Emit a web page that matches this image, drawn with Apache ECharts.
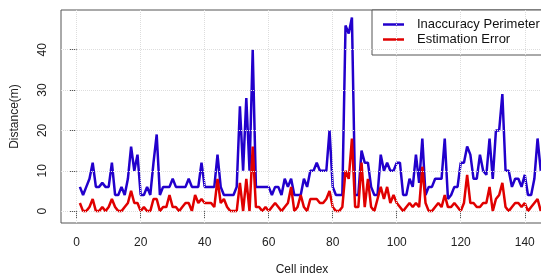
<!DOCTYPE html>
<html>
<head>
<meta charset="utf-8">
<script src="https://cdn.jsdelivr.net/npm/echarts@6/dist/echarts.min.js"></script>
<style>
  html, body { margin: 0; padding: 0; background: #fff; }
  #chart { width: 541px; height: 276px; }
</style>
</head>
<body>
<div id="chart"></div>
<script>
// values, cell index 1..145
var perimeter = [
  6, 4, 6, 8, 12, 6, 6, 7, 6, 6, 12, 4, 4, 6, 4, 8, 16, 10, 14, 4,
  4, 6, 4, 12, 19, 4, 6, 6, 6, 8, 6, 6, 6, 6, 8, 6, 6, 6, 12, 6,
  6, 6, 6, 14, 6, 4, 4, 4, 4, 6, 26, 10, 28, 10, 40, 6, 6, 6, 6, 6,
  4, 6, 6, 4, 8, 6, 8, 4, 4, 4, 8, 6, 10, 10, 12, 10, 10, 10, 20, 6,
  4, 4, 4, 46, 44, 48, 4, 4, 15, 12, 12, 6, 4, 4, 14, 10, 12, 10, 10, 12,
  12, 4, 4, 8, 6, 14, 7, 18, 4, 6, 6, 8, 8, 8, 18, 3, 4, 6, 6, 12,
  12, 16, 14, 8, 8, 14, 10, 9, 18, 8, 20, 20, 29, 10, 10, 6, 8, 8, 6, 9,
  4, 4, 8, 18, 10
];
var estError = [
  2, 0, 0, 1, 3, 0, 0, 1, 0, 1, 3, 1, 0, 0, 1, 2, 5, 2, 2, 0,
  1, 0, 0, 3, 3, 0, 1, 1, 4, 1, 1, 0, 1, 2, 2, 0, 4, 2, 3, 2,
  2, 2, 1, 8, 2, 3, 1, 0, 0, 0, 7, 0, 8, 0, 16, 1, 1, 0, 1, 0,
  1, 2, 1, 0, 1, 2, 6, 0, 1, 4, 1, 0, 3, 3, 3, 2, 2, 3, 5, 1,
  0, 0, 1, 10, 8, 18, 1, 1, 12, 1, 8, 1, 0, 3, 6, 3, 6, 2, 4, 2,
  1, 0, 1, 2, 1, 2, 1, 11, 2, 0, 0, 1, 2, 1, 4, 1, 1, 2, 1, 0,
  2, 9, 2, 2, 1, 1, 2, 2, 6, 0, 3, 4, 7, 1, 0, 1, 2, 2, 1, 2,
  0, 1, 2, 3, 0
];
var xTicks = [0, 20, 40, 60, 80, 100, 120, 140];
var yTicks = [0, 10, 20, 30, 40];

var chart = echarts.init(document.getElementById('chart'));

function toPoints(arr) {
  return arr.map(function (v, i) { return [i + 1, v]; });
}

var gridLines = xTicks.map(function (x) { return { xAxis: x }; })
  .concat(yTicks.map(function (y) { return { yAxis: y }; }));

var axisText = { fontSize: 12, color: '#222', fontFamily: 'Liberation Sans' };
// plain line as legend key (no circle marker)
var lineIcon = 'path://M0 0H21V2.5H0Z';

var option = {
  animation: false,
  backgroundColor: '#fff',
  textStyle: { fontFamily: 'Liberation Sans' },
  grid: {
    left: 61, right: -2, top: 10, bottom: 53,
    outerBoundsMode: 'none',
    show: true, borderColor: '#555', borderWidth: 1,
    backgroundColor: 'transparent'
  },
  legend: {
    data: [
      { name: 'Inaccuracy Perimeter', icon: lineIcon },
      { name: 'Estimation Error', icon: lineIcon }
    ],
    orient: 'vertical',
    left: 372, top: 10,
    padding: [8, 30, 9, 11],
    itemWidth: 21, itemHeight: 13, itemGap: 2,
    borderColor: '#555', borderWidth: 1, borderRadius: 0,
    backgroundColor: '#fff',
    textStyle: { fontSize: 13, color: '#111', padding: [0, 0, 0, 8] }
  },
  xAxis: {
    type: 'value', min: -4.9, max: 145.7,
    name: 'Cell index', nameLocation: 'middle', nameGap: 41,
    nameTextStyle: axisText,
    axisLine: { show: false },
    axisTick: { show: true, inside: false, length: 7, customValues: xTicks,
      lineStyle: { color: '#555' } },
    axisLabel: Object.assign({ customValues: xTicks, margin: 14 }, axisText),
    splitLine: { show: false }
  },
  yAxis: {
    type: 'value', min: -2.95, max: 49.85,
    name: 'Distance(m)', nameLocation: 'middle', nameGap: 40,
    nameTextStyle: axisText,
    axisLine: { show: false },
    axisTick: { show: true, inside: false, length: 7, customValues: yTicks,
      lineStyle: { color: '#555' } },
    axisLabel: Object.assign({ customValues: yTicks, margin: 12, rotate: 90 }, axisText),
    splitLine: { show: false }
  },
  series: [
    {
      name: 'grid', type: 'line', data: [], z: 1, silent: true,
      markLine: {
        silent: true, symbol: ['none', 'none'], label: { show: false },
        lineStyle: { color: '#dddddd', type: 'dotted', width: 1 },
        data: gridLines
      }
    },
    {
      name: 'Inaccuracy Perimeter', type: 'line', z: 2,
      data: toPoints(perimeter),
      symbol: 'none',
      color: '#2200cc',
      lineStyle: { color: '#2200cc', width: 2.5 }
    },
    {
      name: 'Estimation Error', type: 'line', z: 3,
      data: toPoints(estError),
      symbol: 'none',
      color: '#e00000',
      lineStyle: { color: '#e00000', width: 2.5 }
    }
  ]
};

chart.setOption(option);
</script>
</body>
</html>
